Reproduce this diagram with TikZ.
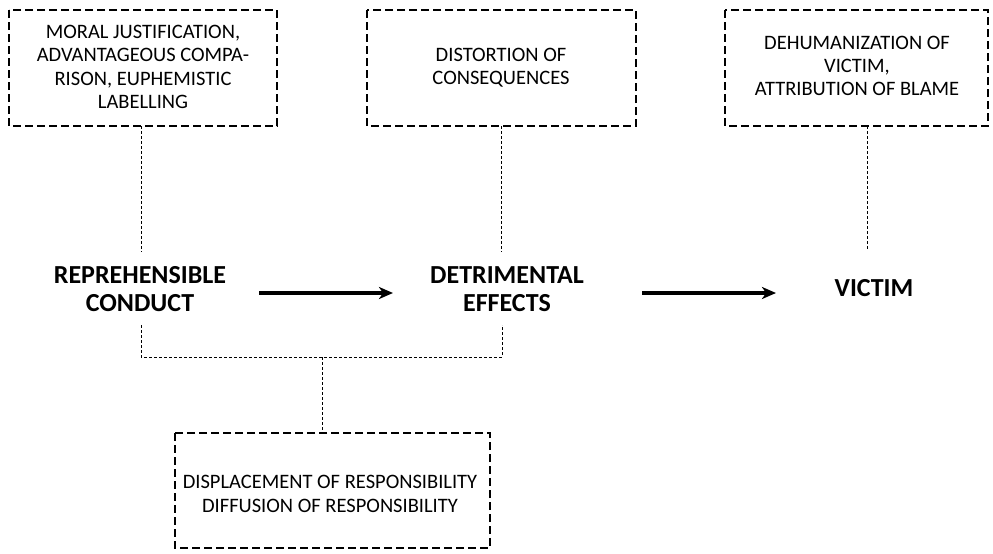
\documentclass[tikz,border=0pt]{standalone}
\usepackage{fontspec}
\setmainfont{Carlito}
\usetikzlibrary{arrows.meta}
\tikzset{
  dbox/.style={draw, line width=2.6pt, dash pattern=on 8pt off 4pt, align=center, inner sep=0pt},
  btxt/.style={font=\fontsize{20.5}{23.3}\selectfont, align=center},
  mtxt/.style={font=\fontsize{26}{28.5}\selectfont\bfseries, align=center},
  thin/.style={line width=0.8pt, dash pattern=on 3pt off 2pt},
  bigarrow/.style={line width=3.5pt, -{Stealth[length=14pt,width=12pt,inset=4pt]}}
}
\begin{document}
\begin{tikzpicture}[x=1pt,y=-1pt]
\useasboundingbox (0,0) rectangle (993,554);
% boxes
\draw[dbox] (9,10) rectangle (277,126);
\node[btxt] (t1) at (143,67) {MORAL JUSTIFICATION,\\ADVANTAGEOUS COMPA-\\RISON, EUPHEMISTIC\\LABELLING};
\draw[dbox] (367,10) rectangle (636,126);
\node[btxt] (t2) at (501,68) {DISTORTION OF\\CONSEQUENCES};
\draw[dbox] (725,10) rectangle (988,126);
\node[btxt] (t3) at (857,66) {DEHUMANIZATION OF\\VICTIM,\\ATTRIBUTION OF BLAME};
\draw[dbox] (175,433) rectangle (490,548);
\node[btxt] (t4) at (330,494) {DISPLACEMENT OF RESPONSIBILITY\\DIFFUSION OF RESPONSIBILITY};
% coordinates
\coordinate (b1) at (141,126);
\coordinate (b2) at (501,126);
\coordinate (b3) at (867,126);
\coordinate (e1) at (141,252);
\coordinate (e2) at (501,252);
\coordinate (e3) at (867,250);
\draw[thin] (b1) -- (e1);
\draw[thin] (b2) -- (e2);
\draw[thin] (b3) -- (e3);
% main labels
\node[mtxt] (rc) at (140,289) {REPREHENSIBLE\\CONDUCT};
\node[mtxt] (de) at (507,289) {DETRIMENTAL\\EFFECTS};
\node[mtxt] (vi) at (874,288) {VICTIM};
\coordinate (a1s) at (259,293);
\coordinate (a1e) at (393,293);
\coordinate (a2s) at (642,293);
\coordinate (a2e) at (776,293);
\draw[bigarrow] (a1s) -- (a1e);
\draw[bigarrow] (a2s) -- (a2e);
% bracket
\coordinate (k1) at (141,325);
\coordinate (k2) at (502,325);
\coordinate (k3) at (141,357);
\coordinate (k4) at (502,357);
\coordinate (km) at (322,357);
\coordinate (kb) at (322,433);
\draw[thin] (k1) -- (k3) -- (k4) -- (k2);
\draw[thin] (km) -- (kb);
\end{tikzpicture}
\end{document}
